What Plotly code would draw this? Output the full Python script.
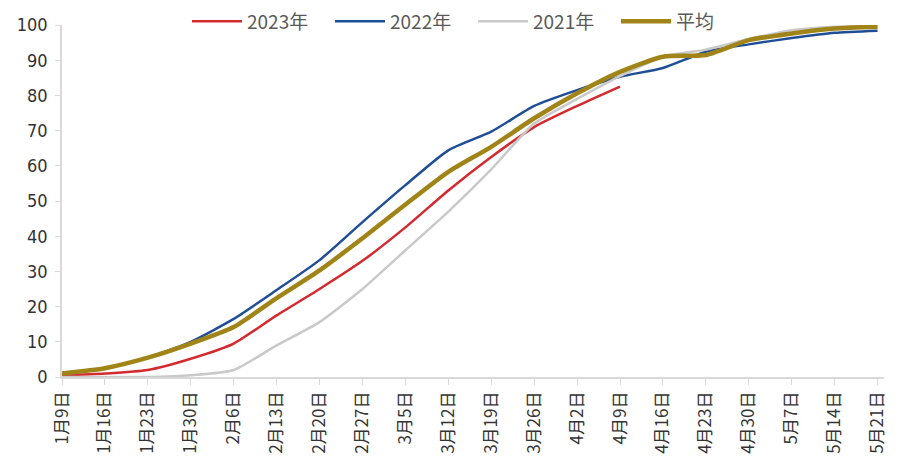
import plotly.graph_objects as go

categories = ["1月9日", "1月16日", "1月23日", "1月30日", "2月6日", "2月13日", "2月20日", "2月27日",
              "3月5日", "3月12日", "3月19日", "3月26日", "4月2日", "4月9日", "4月16日", "4月23日",
              "4月30日", "5月7日", "5月14日", "5月21日"]

y2023 = [0.5, 1.0, 2.0, 5.2, 9.5, 17.5, 25.0, 33.0, 42.5, 53.0, 62.5, 71.0, 77.0, 82.5]
y2022 = [1.0, 2.5, 5.5, 10.0, 16.5, 24.7, 33.2, 44.0, 54.5, 64.4, 69.7, 77.0, 81.5, 85.3,
         87.8, 92.4, 94.5, 96.3, 97.8, 98.4]
y2021 = [0.0, 0.0, 0.0, 0.5, 2.0, 9.0, 15.6, 25.0, 36.0, 47.0, 59.0, 72.0, 79.0, 85.5,
         91.0, 93.0, 96.0, 98.5, 99.5, 99.8]
yavg = [1.0, 2.5, 5.5, 9.5, 14.2, 22.4, 30.3, 39.4, 49.0, 58.3, 65.4, 73.5, 80.6, 86.7,
        91.0, 91.5, 95.7, 97.6, 99.0, 99.5]

series = [
    ("2023年", y2023, "#D42A2F", 2.5),
    ("2022年", y2022, "#1F4E96", 2.5),
    ("2021年", y2021, "#C9C9C9", 2.5),
    ("平均", yavg, "#A08418", 4.5),
]

fig = go.Figure()
for name, ys, color, w in series:
    fig.add_trace(go.Scatter(
        x=list(range(len(ys))), y=ys, name=name, mode="lines",
        line=dict(color=color, width=w, shape="spline", smoothing=0.6),
    ))

fig.update_layout(
    width=911, height=475,
    margin=dict(l=62, r=27, t=25, b=98, autoexpand=False),
    paper_bgcolor="white", plot_bgcolor="white",
    font=dict(family="Noto Sans CJK SC, sans-serif", color="#404040"),
    showlegend=True,
    legend=dict(orientation="h", x=0.5, xanchor="center", y=1.01, yanchor="middle",
                font=dict(size=19, color="#595959"), bgcolor="rgba(0,0,0,0)",
                itemwidth=50, tracegroupgap=0, entrywidth=78, entrywidthmode="pixels"),
)

fig.update_xaxes(
    tickmode="array", tickvals=list(range(len(categories))), ticktext=categories,
    range=[0, 19.15], tickangle=-90, showgrid=False, zeroline=False,
    showline=True, linecolor="#D9D9D9", linewidth=1.5,
    ticks="outside", ticklen=6, tickcolor="#D9D9D9",
    tickfont=dict(size=17, color="#333333", family="Noto Sans CJK SC"),
)
fig.update_yaxes(
    range=[0, 100], dtick=10, showgrid=False, zeroline=False,
    showline=True, linecolor="#D9D9D9", linewidth=1.5,
    ticks="outside", ticklen=5, tickcolor="#D9D9D9", ticklabelstandoff=4,
    tickfont=dict(size=18, color="#333333", family="DejaVu Sans Condensed, DejaVu Sans"),
)

fig.write_html("out.html")
